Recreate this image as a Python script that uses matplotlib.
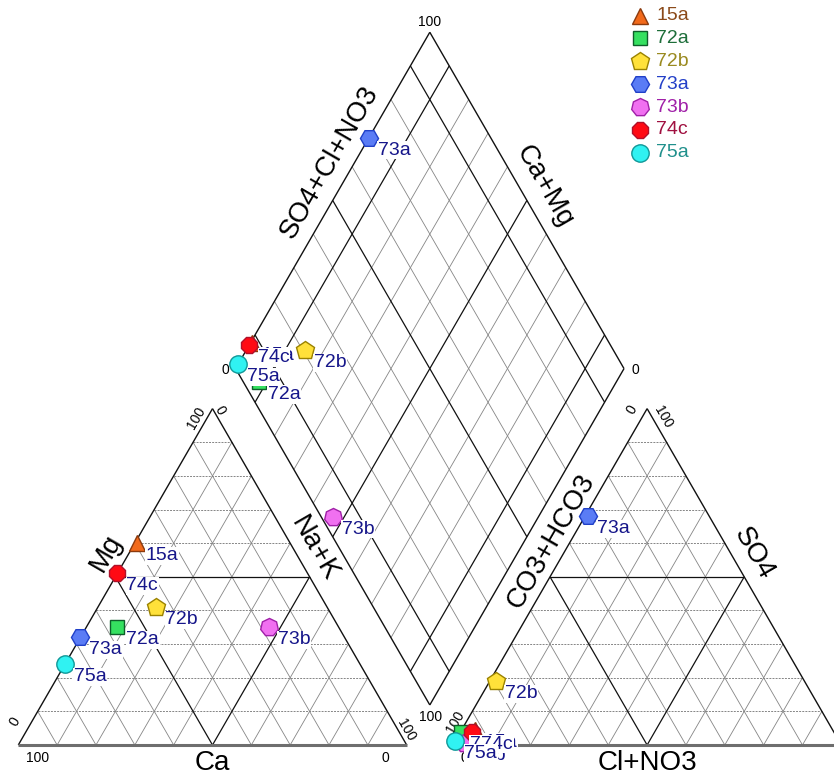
import numpy as np
import matplotlib
matplotlib.use("Agg")
import matplotlib.pyplot as plt

plt.rcParams['font.family'] = ['Liberation Sans', 'DejaVu Sans']

# ---- sample data (% of meq/L) ----
samples = ['15a', '72a', '72b', '73a', '73b', '74c', '75a']
mg = [60, 35, 41, 32, 35, 51, 24]          # Mg
nak = [0.5, 8, 15, 0, 47, 0, 0]            # Na+K
so4 = [4.5, 4, 19, 68, 0.5, 4, 1.3]        # SO4
cl = [3.5, 0, 1.5, 0.7, 2.5, 3, 0]         # Cl+NO3

# ---- marker styles ----
markers = ['^', 's', 'p', 'H', (7, 0, 0), '8', 'o']
msizes = [11, 9.5, 13.5, 13, 13, 13, 12.5]
faces = ['#f26a1b', '#35e060', '#ffe13a', '#5a7cf5', '#f070f0', '#ff0a14', '#30f2f2']
edges = ['#8b3a0e', '#0e5e2a', '#9a8200', '#2040c8', '#a020a8', '#b0102a', '#109898']
legend_colors = ['#8b4a1a', '#1e6e3a', '#9a8a20', '#2440c8', '#a020a8', '#a01040', '#20908c']
label_color = '#16168a'

H = np.sqrt(3) / 2
GAP = 11.9
PPU = 3.884            # pixels per data unit
PT = 0.72              # points per pixel (dpi 100)


def cation_xy(m, n):
    return n + m / 2, m * H


def anion_xy(s, c):
    return 100 + GAP + c + s / 2, s * H


def diamond_xy(n, a):
    return 0.5 * (100 + GAP + a + n), H * (100 + GAP + a - n)


fig = plt.figure(figsize=(8.34, 7.78), dpi=100)
ax = fig.add_axes([0, 0, 1, 1])
ax.set_xlim(-18.3 / PPU, (834 - 18.3) / PPU)
ax.set_ylim((745 - 778) / PPU, 745 / PPU)
ax.set_aspect('equal')
ax.axis('off')

GRAY = '#858585'
BLACK = '#111111'


def seg(p, q, **kw):
    ax.plot([p[0], q[0]], [p[1], q[1]], solid_capstyle='butt', **kw)


def triangle(x0):
    A = (x0, 0)
    B = (x0 + 100, 0)
    C = (x0 + 50, 100 * H)
    for v in range(10, 100, 10):
        strong = v == 50
        # horizontal lines
        p = (x0 + v / 2, v * H)
        q = (x0 + 100 - v / 2, v * H)
        if strong:
            seg(p, q, color=BLACK, lw=0.9, zorder=2)
        else:
            seg(p, q, color=GRAY, lw=0.7, ls=(0, (2, 1.2)), zorder=1)
        # lines parallel to left edge
        p = (x0 + v, 0)
        q = (x0 + v + (100 - v) / 2, (100 - v) * H)
        seg(p, q, color=BLACK if strong else GRAY, lw=0.9 if strong else 0.6,
            zorder=2 if strong else 1)
        # lines parallel to right edge
        p = (x0 + 100 - v, 0)
        q = (x0 + (100 - v) / 2, (100 - v) * H)
        seg(p, q, color=BLACK if strong else GRAY, lw=0.9 if strong else 0.6,
            zorder=2 if strong else 1)
    seg(A, C, color=BLACK, lw=1.0, zorder=3)
    seg(B, C, color=BLACK, lw=1.0, zorder=3)
    seg(A, B, color='#6e6e6e', lw=2.2, zorder=3)
    return A, B, C


A1, B1, C1 = triangle(0)
A2, B2, C2 = triangle(100 + GAP)

# diamond grid
for v in range(10, 100, 10):
    strong = v in (10, 50, 90)
    kw = dict(color=BLACK if strong else GRAY, lw=0.9 if strong else 0.6,
              zorder=2 if strong else 1)
    seg(diamond_xy(v, 0), diamond_xy(v, 100), **kw)
    seg(diamond_xy(0, v), diamond_xy(100, v), **kw)
DL = diamond_xy(0, 0)
DT = diamond_xy(0, 100)
DR = diamond_xy(100, 100)
DB = diamond_xy(100, 0)
for p, q in [(DL, DT), (DT, DR), (DR, DB), (DB, DL)]:
    seg(p, q, color=BLACK, lw=1.0, zorder=3)


def put(text, anchor, dx_px, dy_px, size, rot=0, **kw):
    ax.annotate(text, xy=anchor, xytext=(dx_px * PT, -dy_px * PT),
                textcoords='offset points', ha='center', va='center',
                rotation=rot, rotation_mode='anchor', fontsize=size,
                color='black', zorder=4, **kw)


# ---- scale numbers ----
TS = 10
put('100', A1, 19.4, 12.7, TS)
put('0', B1, -21.7, 12.7, TS)
put('0', A1, -3.3, -23.3, TS, 60)
put('100', C1, -15.8, 9.7, TS, 60)
put('0', C1, 7.5, 1.4, TS, -60)
put('100', B1, 0, -15, TS, -60)

put('0', A2, 11, 12.7, TS)
put('100', A2, 2, -23.3, TS, 60)
put('0', C2, -15.4, 1.4, TS, 60)
put('100', C2, 16.2, 8.1, TS, -60)
put('0', B2, -5, -24, TS, -60)
put('100', B2, -12, 12.7, TS)

put('100', DT, 0, -10.5, TS)
put('0', DL, -10.6, 1.4, TS)
put('0', DR, 11, 1.4, TS)
put('100', DB, 1, 11.7, TS)


# ---- axis titles ----
def edge_title(text, p, q, t, dist_px, normal, rot):
    x = p[0] + (q[0] - p[0]) * t
    y = p[1] + (q[1] - p[1]) * t
    ax.annotate(text, xy=(x, y),
                xytext=(normal[0] * dist_px * PT, normal[1] * dist_px * PT),
                textcoords='offset points', ha='center', va='center',
                rotation=rot, rotation_mode='anchor', fontsize=20, zorder=4)


NL = (-H, 0.5)
NR = (H, 0.5)
edge_title('Mg', A1, C1, 0.54, 20, NL, 60)
edge_title('Na+K', B1, C1, 0.556, 18.4, NR, -60)
edge_title('Ca', A1, B1, 0.5, 18, (0, -1), 0)
edge_title('CO3+HCO3', A2, C2, 0.58, 16.3, NL, 60)
edge_title('SO4', B2, C2, 0.54, 20.5, NR, -60)
edge_title('Cl+NO3', A2, B2, 0.5, 18, (0, -1), 0)
edge_title('SO4+Cl+NO3', DL, DT, 0.58, 21.8, NL, 60)
edge_title('Ca+Mg', DT, DR, 0.49, 22, NR, -60)

# ---- samples ----
for i, name in enumerate(samples):
    pts = [cation_xy(mg[i], nak[i]),
           anion_xy(so4[i], cl[i]),
           diamond_xy(nak[i], so4[i] + cl[i])]
    for (x, y) in pts:
        ax.plot([x], [y], marker=markers[i], ms=msizes[i], mfc=faces[i],
                mec=edges[i], mew=1.0, ls='none', zorder=5, clip_on=False)
        ax.annotate(name, xy=(x, y), xytext=(6.5, -9),
                    textcoords='offset points', ha='left', va='center',
                    fontsize=14, color=label_color, zorder=6,
                    bbox=dict(boxstyle='square,pad=0.03', fc='white', ec='none'))

# ---- legend ----
for i, name in enumerate(samples):
    ypx = 15.5 + 22.9 * i
    yf = 1 - ypx / 778
    ax.plot([640 / 834], [yf], transform=ax.transAxes, marker=markers[i],
            ms=msizes[i], mfc=faces[i], mec=edges[i], mew=1.0, ls='none',
            zorder=5, clip_on=False)
    ax.text(656 / 834, yf, name, transform=ax.transAxes, ha='left',
            va='center', fontsize=14, color=legend_colors[i], zorder=6)

fig.savefig('out.png', dpi=100, facecolor='white')
